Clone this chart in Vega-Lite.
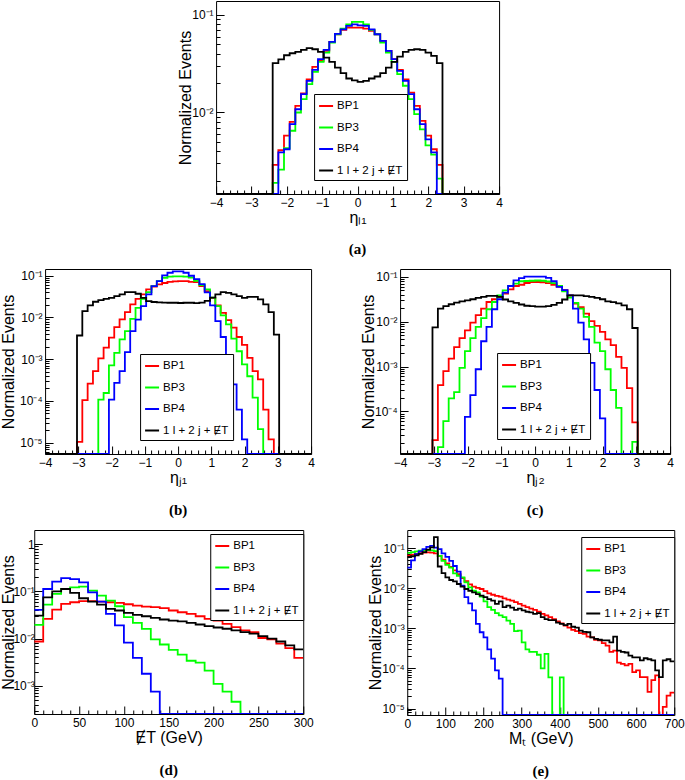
{
"$schema":"https://vega.github.io/schema/vega-lite/v6.json",
"padding":{"left":0,"top":0,"right":0,"bottom":0},
"datasets":{
"a":[
{"x":-4,"BP1":0.00146,"BP3":0.00146,"BP4":0.00146,"SM":0.00146},
{"x":-3.84,"BP1":0.00146,"BP3":0.00146,"BP4":0.00146,"SM":0.00146},
{"x":-3.68,"BP1":0.00146,"BP3":0.00146,"BP4":0.00146,"SM":0.00146},
{"x":-3.52,"BP1":0.00146,"BP3":0.00146,"BP4":0.00146,"SM":0.00146},
{"x":-3.36,"BP1":0.00146,"BP3":0.00146,"BP4":0.00146,"SM":0.00146},
{"x":-3.2,"BP1":0.00146,"BP3":0.00146,"BP4":0.00146,"SM":0.00146},
{"x":-3.04,"BP1":0.00146,"BP3":0.00146,"BP4":0.00146,"SM":0.00146},
{"x":-2.88,"BP1":0.00146,"BP3":0.00146,"BP4":0.00146,"SM":0.00146},
{"x":-2.72,"BP1":0.00146,"BP3":0.00146,"BP4":0.00146,"SM":0.00146},
{"x":-2.56,"BP1":0.00146,"BP3":0.00146,"BP4":0.00146,"SM":0.00146},
{"x":-2.4,"BP1":0.0029,"BP3":0.0019,"BP4":0.00146,"SM":0.032},
{"x":-2.24,"BP1":0.0041,"BP3":0.0026,"BP4":0.0039,"SM":0.035},
{"x":-2.08,"BP1":0.0058,"BP3":0.0043,"BP4":0.0042,"SM":0.0386},
{"x":-1.92,"BP1":0.008,"BP3":0.0065,"BP4":0.0076,"SM":0.0405},
{"x":-1.76,"BP1":0.0117,"BP3":0.01,"BP4":0.0108,"SM":0.0418},
{"x":-1.6,"BP1":0.0157,"BP3":0.0137,"BP4":0.0154,"SM":0.0439},
{"x":-1.44,"BP1":0.0219,"BP3":0.0195,"BP4":0.0211,"SM":0.0456},
{"x":-1.28,"BP1":0.0294,"BP3":0.0261,"BP4":0.0274,"SM":0.0445},
{"x":-1.12,"BP1":0.0338,"BP3":0.033,"BP4":0.0352,"SM":0.0418},
{"x":-0.96,"BP1":0.0428,"BP3":0.0411,"BP4":0.0439,"SM":0.0366},
{"x":-0.8,"BP1":0.053,"BP3":0.052,"BP4":0.053,"SM":0.033},
{"x":-0.64,"BP1":0.0634,"BP3":0.0634,"BP4":0.064,"SM":0.0289},
{"x":-0.48,"BP1":0.0702,"BP3":0.0724,"BP4":0.0713,"SM":0.0253},
{"x":-0.32,"BP1":0.0742,"BP3":0.0802,"BP4":0.0772,"SM":0.0223},
{"x":-0.16,"BP1":0.0742,"BP3":0.0848,"BP4":0.0802,"SM":0.0213},
{"x":0,"BP1":0.0742,"BP3":0.0848,"BP4":0.0783,"SM":0.0206},
{"x":0.16,"BP1":0.0724,"BP3":0.0802,"BP4":0.0772,"SM":0.0211},
{"x":0.32,"BP1":0.0686,"BP3":0.0702,"BP4":0.0713,"SM":0.0223},
{"x":0.48,"BP1":0.0634,"BP3":0.0634,"BP4":0.0634,"SM":0.0234},
{"x":0.64,"BP1":0.0542,"BP3":0.052,"BP4":0.0542,"SM":0.0253},
{"x":0.8,"BP1":0.0428,"BP3":0.041,"BP4":0.0428,"SM":0.0289},
{"x":0.96,"BP1":0.0352,"BP3":0.033,"BP4":0.0352,"SM":0.033},
{"x":1.12,"BP1":0.0274,"BP3":0.0247,"BP4":0.0267,"SM":0.0374},
{"x":1.28,"BP1":0.0219,"BP3":0.0188,"BP4":0.0211,"SM":0.0418},
{"x":1.44,"BP1":0.016,"BP3":0.0137,"BP4":0.0154,"SM":0.0439},
{"x":1.6,"BP1":0.0117,"BP3":0.0096,"BP4":0.0108,"SM":0.0445},
{"x":1.76,"BP1":0.0082,"BP3":0.0067,"BP4":0.0076,"SM":0.0439},
{"x":1.92,"BP1":0.0058,"BP3":0.0046,"BP4":0.0053,"SM":0.0411},
{"x":2.08,"BP1":0.0042,"BP3":0.0037,"BP4":0.0039,"SM":0.038},
{"x":2.24,"BP1":0.0029,"BP3":0.0021,"BP4":0.00146,"SM":0.032},
{"x":2.4,"BP1":0.00146,"BP3":0.00146,"BP4":0.00146,"SM":0.00146},
{"x":2.56,"BP1":0.00146,"BP3":0.00146,"BP4":0.00146,"SM":0.00146},
{"x":2.72,"BP1":0.00146,"BP3":0.00146,"BP4":0.00146,"SM":0.00146},
{"x":2.88,"BP1":0.00146,"BP3":0.00146,"BP4":0.00146,"SM":0.00146},
{"x":3.04,"BP1":0.00146,"BP3":0.00146,"BP4":0.00146,"SM":0.00146},
{"x":3.2,"BP1":0.00146,"BP3":0.00146,"BP4":0.00146,"SM":0.00146},
{"x":3.36,"BP1":0.00146,"BP3":0.00146,"BP4":0.00146,"SM":0.00146},
{"x":3.52,"BP1":0.00146,"BP3":0.00146,"BP4":0.00146,"SM":0.00146},
{"x":3.68,"BP1":0.00146,"BP3":0.00146,"BP4":0.00146,"SM":0.00146},
{"x":3.84,"BP1":0.00146,"BP3":0.00146,"BP4":0.00146,"SM":0.00146},
{"x":4,"BP1":0.00146,"BP3":0.00146,"BP4":0.00146,"SM":0.00146}
],
"b":[
{"x":-4,"BP1":0.00000535,"BP3":0.00000535,"BP4":0.00000535,"SM":0.00000535},
{"x":-3.84,"BP1":0.00000535,"BP3":0.00000535,"BP4":0.00000535,"SM":0.00000535},
{"x":-3.68,"BP1":0.00000535,"BP3":0.00000535,"BP4":0.00000535,"SM":0.00000535},
{"x":-3.52,"BP1":0.00000535,"BP3":0.00000535,"BP4":0.00000535,"SM":0.00000535},
{"x":-3.36,"BP1":0.00000535,"BP3":0.00000535,"BP4":0.00000535,"SM":0.00000535},
{"x":-3.2,"BP1":0.00000535,"BP3":0.00000535,"BP4":0.00000535,"SM":0.00000535},
{"x":-3.04,"BP1":0.0000105,"BP3":0.00000535,"BP4":0.00000535,"SM":0.0037},
{"x":-2.88,"BP1":0.000105,"BP3":0.00000535,"BP4":0.00000535,"SM":0.0142},
{"x":-2.72,"BP1":0.00026,"BP3":0.00000535,"BP4":0.00000535,"SM":0.0194},
{"x":-2.56,"BP1":0.00052,"BP3":0.00000535,"BP4":0.00000535,"SM":0.0238},
{"x":-2.4,"BP1":0.00105,"BP3":0.000108,"BP4":0.00000535,"SM":0.026},
{"x":-2.24,"BP1":0.0019,"BP3":0.000155,"BP4":0.00000535,"SM":0.028},
{"x":-2.08,"BP1":0.0033,"BP3":0.00071,"BP4":0.000108,"SM":0.0296},
{"x":-1.92,"BP1":0.0059,"BP3":0.00142,"BP4":0.00027,"SM":0.0325},
{"x":-1.76,"BP1":0.009,"BP3":0.00297,"BP4":0.00052,"SM":0.0356},
{"x":-1.6,"BP1":0.0134,"BP3":0.0047,"BP4":0.00147,"SM":0.0405},
{"x":-1.44,"BP1":0.0205,"BP3":0.0093,"BP4":0.0047,"SM":0.0405},
{"x":-1.28,"BP1":0.028,"BP3":0.017,"BP4":0.0089,"SM":0.037},
{"x":-1.12,"BP1":0.0356,"BP3":0.028,"BP4":0.0187,"SM":0.0296},
{"x":-0.96,"BP1":0.047,"BP3":0.0405,"BP4":0.0356,"SM":0.0247},
{"x":-0.8,"BP1":0.055,"BP3":0.0565,"BP4":0.0565,"SM":0.0235},
{"x":-0.64,"BP1":0.062,"BP3":0.0745,"BP4":0.0745,"SM":0.023},
{"x":-0.48,"BP1":0.067,"BP3":0.0895,"BP4":0.102,"SM":0.0228},
{"x":-0.32,"BP1":0.071,"BP3":0.095,"BP4":0.118,"SM":0.0225},
{"x":-0.16,"BP1":0.073,"BP3":0.097,"BP4":0.127,"SM":0.0225},
{"x":0,"BP1":0.0745,"BP3":0.097,"BP4":0.127,"SM":0.0222},
{"x":0.16,"BP1":0.0745,"BP3":0.095,"BP4":0.118,"SM":0.0225},
{"x":0.32,"BP1":0.071,"BP3":0.09,"BP4":0.1,"SM":0.0225},
{"x":0.48,"BP1":0.0705,"BP3":0.075,"BP4":0.083,"SM":0.022},
{"x":0.64,"BP1":0.0565,"BP3":0.06,"BP4":0.063,"SM":0.0228},
{"x":0.8,"BP1":0.043,"BP3":0.047,"BP4":0.04,"SM":0.025},
{"x":0.96,"BP1":0.0296,"BP3":0.03,"BP4":0.0195,"SM":0.03},
{"x":1.12,"BP1":0.0194,"BP3":0.0187,"BP4":0.0082,"SM":0.0356},
{"x":1.28,"BP1":0.0129,"BP3":0.0112,"BP4":0.0034,"SM":0.0405},
{"x":1.44,"BP1":0.0086,"BP3":0.0068,"BP4":0.00098,"SM":0.039},
{"x":1.6,"BP1":0.0057,"BP3":0.0031,"BP4":0.00025,"SM":0.0356},
{"x":1.76,"BP1":0.0034,"BP3":0.00155,"BP4":0.000062,"SM":0.0325},
{"x":1.92,"BP1":0.0022,"BP3":0.00075,"BP4":0.000012,"SM":0.0296},
{"x":2.08,"BP1":0.00108,"BP3":0.00039,"BP4":0.00000535,"SM":0.031},
{"x":2.24,"BP1":0.00052,"BP3":0.00012,"BP4":0.00000535,"SM":0.031},
{"x":2.4,"BP1":0.00033,"BP3":0.000021,"BP4":0.00000535,"SM":0.027},
{"x":2.56,"BP1":0.000062,"BP3":0.00000535,"BP4":0.00000535,"SM":0.0205},
{"x":2.72,"BP1":0.000012,"BP3":0.00000535,"BP4":0.00000535,"SM":0.0134},
{"x":2.88,"BP1":0.00000535,"BP3":0.00000535,"BP4":0.00000535,"SM":0.0039},
{"x":3.04,"BP1":0.00000535,"BP3":0.00000535,"BP4":0.00000535,"SM":0.00000535},
{"x":3.2,"BP1":0.00000535,"BP3":0.00000535,"BP4":0.00000535,"SM":0.00000535},
{"x":3.36,"BP1":0.00000535,"BP3":0.00000535,"BP4":0.00000535,"SM":0.00000535},
{"x":3.52,"BP1":0.00000535,"BP3":0.00000535,"BP4":0.00000535,"SM":0.00000535},
{"x":3.68,"BP1":0.00000535,"BP3":0.00000535,"BP4":0.00000535,"SM":0.00000535},
{"x":3.84,"BP1":0.00000535,"BP3":0.00000535,"BP4":0.00000535,"SM":0.00000535},
{"x":4,"BP1":0.00000535,"BP3":0.00000535,"BP4":0.00000535,"SM":0.00000535}
],
"c":[
{"x":-4,"BP1":0.0000113,"BP3":0.0000113,"BP4":0.0000113,"SM":0.0000113},
{"x":-3.84,"BP1":0.0000113,"BP3":0.0000113,"BP4":0.0000113,"SM":0.0000113},
{"x":-3.68,"BP1":0.0000113,"BP3":0.0000113,"BP4":0.0000113,"SM":0.0000113},
{"x":-3.52,"BP1":0.0000113,"BP3":0.0000113,"BP4":0.0000113,"SM":0.0000113},
{"x":-3.36,"BP1":0.0000113,"BP3":0.0000113,"BP4":0.0000113,"SM":0.0000113},
{"x":-3.2,"BP1":0.0000113,"BP3":0.0000113,"BP4":0.0000113,"SM":0.0000113},
{"x":-3.04,"BP1":0.000023,"BP3":0.0000113,"BP4":0.0000113,"SM":0.0074},
{"x":-2.88,"BP1":0.000385,"BP3":0.000016,"BP4":0.0000113,"SM":0.0195},
{"x":-2.72,"BP1":0.00079,"BP3":0.000061,"BP4":0.0000113,"SM":0.022},
{"x":-2.56,"BP1":0.0015,"BP3":0.000195,"BP4":0.0000113,"SM":0.0243},
{"x":-2.4,"BP1":0.0027,"BP3":0.00027,"BP4":0.0000113,"SM":0.0265},
{"x":-2.24,"BP1":0.0043,"BP3":0.00093,"BP4":0.0000113,"SM":0.0283},
{"x":-2.08,"BP1":0.0064,"BP3":0.0022,"BP4":0.000076,"SM":0.0298},
{"x":-1.92,"BP1":0.0095,"BP3":0.0043,"BP4":0.00023,"SM":0.0314},
{"x":-1.76,"BP1":0.0139,"BP3":0.0076,"BP4":0.00087,"SM":0.0336},
{"x":-1.6,"BP1":0.0195,"BP3":0.012,"BP4":0.00365,"SM":0.0353},
{"x":-1.44,"BP1":0.0273,"BP3":0.0188,"BP4":0.0076,"SM":0.0372},
{"x":-1.28,"BP1":0.0314,"BP3":0.0273,"BP4":0.0188,"SM":0.0372},
{"x":-1.12,"BP1":0.0353,"BP3":0.0385,"BP4":0.0314,"SM":0.0353},
{"x":-0.96,"BP1":0.042,"BP3":0.0497,"BP4":0.044,"SM":0.031},
{"x":-0.8,"BP1":0.052,"BP3":0.062,"BP4":0.062,"SM":0.0283},
{"x":-0.64,"BP1":0.062,"BP3":0.07,"BP4":0.083,"SM":0.026},
{"x":-0.48,"BP1":0.066,"BP3":0.079,"BP4":0.093,"SM":0.024},
{"x":-0.32,"BP1":0.0723,"BP3":0.08,"BP4":0.1,"SM":0.0225},
{"x":-0.16,"BP1":0.076,"BP3":0.081,"BP4":0.1,"SM":0.022},
{"x":0,"BP1":0.076,"BP3":0.082,"BP4":0.1,"SM":0.0215},
{"x":0.16,"BP1":0.075,"BP3":0.081,"BP4":0.1,"SM":0.0215},
{"x":0.32,"BP1":0.072,"BP3":0.078,"BP4":0.094,"SM":0.022},
{"x":0.48,"BP1":0.066,"BP3":0.072,"BP4":0.079,"SM":0.0235},
{"x":0.64,"BP1":0.06,"BP3":0.062,"BP4":0.059,"SM":0.026},
{"x":0.8,"BP1":0.05,"BP3":0.047,"BP4":0.05,"SM":0.031},
{"x":0.96,"BP1":0.0385,"BP3":0.034,"BP4":0.0385,"SM":0.0385},
{"x":1.12,"BP1":0.025,"BP3":0.026,"BP4":0.0195,"SM":0.0385},
{"x":1.28,"BP1":0.021,"BP3":0.0195,"BP4":0.0095,"SM":0.0385},
{"x":1.44,"BP1":0.015,"BP3":0.0127,"BP4":0.004,"SM":0.037},
{"x":1.6,"BP1":0.0102,"BP3":0.0076,"BP4":0.0012,"SM":0.0353},
{"x":1.76,"BP1":0.008,"BP3":0.0034,"BP4":0.0003,"SM":0.0336},
{"x":1.92,"BP1":0.0059,"BP3":0.0022,"BP4":0.00007,"SM":0.0314},
{"x":2.08,"BP1":0.004,"BP3":0.00087,"BP4":0.0000113,"SM":0.0283},
{"x":2.24,"BP1":0.003,"BP3":0.0003,"BP4":0.0000113,"SM":0.027},
{"x":2.4,"BP1":0.00164,"BP3":0.00012,"BP4":0.0000113,"SM":0.0255},
{"x":2.56,"BP1":0.00093,"BP3":0.0000113,"BP4":0.0000113,"SM":0.023},
{"x":2.72,"BP1":0.00033,"BP3":0.0000113,"BP4":0.0000113,"SM":0.0188},
{"x":2.88,"BP1":0.000057,"BP3":0.000021,"BP4":0.0000113,"SM":0.0072},
{"x":3.04,"BP1":0.0000113,"BP3":0.0000113,"BP4":0.0000113,"SM":0.0000113},
{"x":3.2,"BP1":0.0000113,"BP3":0.0000113,"BP4":0.0000113,"SM":0.0000113},
{"x":3.36,"BP1":0.0000113,"BP3":0.0000113,"BP4":0.0000113,"SM":0.0000113},
{"x":3.52,"BP1":0.0000113,"BP3":0.0000113,"BP4":0.0000113,"SM":0.0000113},
{"x":3.68,"BP1":0.0000113,"BP3":0.0000113,"BP4":0.0000113,"SM":0.0000113},
{"x":3.84,"BP1":0.0000113,"BP3":0.0000113,"BP4":0.0000113,"SM":0.0000113},
{"x":4,"BP1":0.0000113,"BP3":0.0000113,"BP4":0.0000113,"SM":0.0000113}
],
"d":[
{"x":0,"BP1":0.0087,"BP3":0.0196,"BP4":0.0406,"SM":0.0308},
{"x":10,"BP1":0.0262,"BP3":0.0526,"BP4":0.1125,"SM":0.075},
{"x":20,"BP1":0.0413,"BP3":0.0883,"BP4":0.1606,"SM":0.1005},
{"x":30,"BP1":0.0543,"BP3":0.1125,"BP4":0.192,"SM":0.1125},
{"x":40,"BP1":0.0589,"BP3":0.122,"BP4":0.183,"SM":0.0927},
{"x":50,"BP1":0.0621,"BP3":0.126,"BP4":0.1555,"SM":0.0716},
{"x":60,"BP1":0.0621,"BP3":0.104,"BP4":0.0957,"SM":0.0608},
{"x":70,"BP1":0.0607,"BP3":0.0814,"BP4":0.0608,"SM":0.0526},
{"x":80,"BP1":0.0589,"BP3":0.0639,"BP4":0.0334,"SM":0.0426},
{"x":90,"BP1":0.0572,"BP3":0.0485,"BP4":0.019,"SM":0.0394},
{"x":100,"BP1":0.0535,"BP3":0.0284,"BP4":0.0082,"SM":0.0351},
{"x":110,"BP1":0.05,"BP3":0.0216,"BP4":0.0039,"SM":0.0318},
{"x":120,"BP1":0.0476,"BP3":0.0161,"BP4":0.0018,"SM":0.0298},
{"x":130,"BP1":0.0463,"BP3":0.0096,"BP4":0.00075,"SM":0.0276},
{"x":140,"BP1":0.0441,"BP3":0.0075,"BP4":0.000253,"SM":0.0254},
{"x":150,"BP1":0.0394,"BP3":0.0058,"BP4":0.000253,"SM":0.0241},
{"x":160,"BP1":0.0362,"BP3":0.0046,"BP4":0.000253,"SM":0.0231},
{"x":170,"BP1":0.0334,"BP3":0.0034,"BP4":0.000253,"SM":0.0216},
{"x":180,"BP1":0.0298,"BP3":0.0031,"BP4":0.000253,"SM":0.0199},
{"x":190,"BP1":0.0263,"BP3":0.0021,"BP4":0.000253,"SM":0.0184},
{"x":200,"BP1":0.0241,"BP3":0.0011,"BP4":0.000253,"SM":0.0172},
{"x":210,"BP1":0.0206,"BP3":0.00075,"BP4":0.000253,"SM":0.0162},
{"x":220,"BP1":0.0175,"BP3":0.00046,"BP4":0.000253,"SM":0.0149},
{"x":230,"BP1":0.0149,"BP3":0.000253,"BP4":0.000253,"SM":0.0137},
{"x":240,"BP1":0.0137,"BP3":0.000253,"BP4":0.000253,"SM":0.0127},
{"x":250,"BP1":0.0103,"BP3":0.000253,"BP4":0.000253,"SM":0.0113},
{"x":260,"BP1":0.0097,"BP3":0.000253,"BP4":0.000253,"SM":0.01},
{"x":270,"BP1":0.0078,"BP3":0.000253,"BP4":0.000253,"SM":0.0087},
{"x":280,"BP1":0.0063,"BP3":0.000253,"BP4":0.000253,"SM":0.0072},
{"x":290,"BP1":0.0039,"BP3":0.000253,"BP4":0.000253,"SM":0.0059},
{"x":300,"BP1":0.0039,"BP3":0.000253,"BP4":0.000253,"SM":0.0059}
],
"e":[
{"x":0,"BP1":0.065,"BP3":0.077,"BP4":0.033,"SM":0.061},
{"x":10,"BP1":0.069,"BP3":0.08,"BP4":0.05,"SM":0.063},
{"x":20,"BP1":0.072,"BP3":0.083,"BP4":0.071,"SM":0.066},
{"x":30,"BP1":0.075,"BP3":0.087,"BP4":0.083,"SM":0.072},
{"x":40,"BP1":0.078,"BP3":0.09,"BP4":0.095,"SM":0.08},
{"x":50,"BP1":0.079,"BP3":0.09,"BP4":0.108,"SM":0.092},
{"x":60,"BP1":0.078,"BP3":0.088,"BP4":0.114,"SM":0.105},
{"x":70,"BP1":0.074,"BP3":0.085,"BP4":0.104,"SM":0.19},
{"x":80,"BP1":0.064,"BP3":0.0645,"BP4":0.095,"SM":0.035},
{"x":90,"BP1":0.052,"BP3":0.0485,"BP4":0.074,"SM":0.024},
{"x":100,"BP1":0.042,"BP3":0.0386,"BP4":0.061,"SM":0.0187},
{"x":110,"BP1":0.034,"BP3":0.033,"BP4":0.0485,"SM":0.0161},
{"x":120,"BP1":0.028,"BP3":0.0235,"BP4":0.036,"SM":0.0149},
{"x":130,"BP1":0.0226,"BP3":0.0206,"BP4":0.026,"SM":0.0128},
{"x":140,"BP1":0.018,"BP3":0.0187,"BP4":0.0116,"SM":0.011},
{"x":150,"BP1":0.015,"BP3":0.014,"BP4":0.006,"SM":0.0096},
{"x":160,"BP1":0.0125,"BP3":0.0106,"BP4":0.0042,"SM":0.0087},
{"x":170,"BP1":0.011,"BP3":0.0087,"BP4":0.0028,"SM":0.0079},
{"x":180,"BP1":0.0102,"BP3":0.0079,"BP4":0.0013,"SM":0.0072},
{"x":190,"BP1":0.0096,"BP3":0.0062,"BP4":0.0008,"SM":0.0066},
{"x":200,"BP1":0.0085,"BP3":0.0047,"BP4":0.0006,"SM":0.006},
{"x":210,"BP1":0.0075,"BP3":0.0034,"BP4":0.0003,"SM":0.0054},
{"x":220,"BP1":0.0069,"BP3":0.0029,"BP4":0.000175,"SM":0.0049},
{"x":230,"BP1":0.0065,"BP3":0.0024,"BP4":0.00009,"SM":0.0041},
{"x":240,"BP1":0.0062,"BP3":0.0021,"BP4":0.000056,"SM":0.0047},
{"x":250,"BP1":0.0056,"BP3":0.0019,"BP4":0.0000069,"SM":0.0034},
{"x":260,"BP1":0.0052,"BP3":0.00157,"BP4":0.0000069,"SM":0.0037},
{"x":270,"BP1":0.0049,"BP3":0.0013,"BP4":0.0000069,"SM":0.0033},
{"x":280,"BP1":0.0045,"BP3":0.00085,"BP4":0.0000069,"SM":0.0029},
{"x":290,"BP1":0.0041,"BP3":0.00088,"BP4":0.0000069,"SM":0.0031},
{"x":300,"BP1":0.0037,"BP3":0.00045,"BP4":0.0000069,"SM":0.0028},
{"x":310,"BP1":0.0034,"BP3":0.0003,"BP4":0.0000069,"SM":0.0026},
{"x":320,"BP1":0.0031,"BP3":0.00026,"BP4":0.0000069,"SM":0.0025},
{"x":330,"BP1":0.0029,"BP3":0.00026,"BP4":0.0000069,"SM":0.0023},
{"x":340,"BP1":0.0026,"BP3":0.00022,"BP4":0.0000069,"SM":0.0024},
{"x":350,"BP1":0.0023,"BP3":0.0001,"BP4":0.0000069,"SM":0.0019},
{"x":360,"BP1":0.0021,"BP3":0.00023,"BP4":0.0000069,"SM":0.0017},
{"x":370,"BP1":0.0019,"BP3":0.00006,"BP4":0.0000069,"SM":0.0016},
{"x":380,"BP1":0.0017,"BP3":0.0000069,"BP4":0.0000069,"SM":0.0016},
{"x":390,"BP1":0.0015,"BP3":0.0000069,"BP4":0.0000069,"SM":0.0014},
{"x":400,"BP1":0.00134,"BP3":0.00006,"BP4":0.0000069,"SM":0.0013},
{"x":410,"BP1":0.00117,"BP3":0.0000069,"BP4":0.0000069,"SM":0.0012},
{"x":420,"BP1":0.00105,"BP3":0.0000069,"BP4":0.0000069,"SM":0.0013},
{"x":430,"BP1":0.00092,"BP3":0.0000069,"BP4":0.0000069,"SM":0.0011},
{"x":440,"BP1":0.00085,"BP3":0.0000069,"BP4":0.0000069,"SM":0.00105},
{"x":450,"BP1":0.00076,"BP3":0.0000069,"BP4":0.0000069,"SM":0.00088},
{"x":460,"BP1":0.00073,"BP3":0.0000069,"BP4":0.0000069,"SM":0.00082},
{"x":470,"BP1":0.00062,"BP3":0.0000069,"BP4":0.0000069,"SM":0.0008},
{"x":480,"BP1":0.0006,"BP3":0.0000069,"BP4":0.0000069,"SM":0.0006},
{"x":490,"BP1":0.00052,"BP3":0.0000069,"BP4":0.0000069,"SM":0.00055},
{"x":500,"BP1":0.0005,"BP3":0.0000069,"BP4":0.0000069,"SM":0.00052},
{"x":510,"BP1":0.00043,"BP3":0.0000069,"BP4":0.0000069,"SM":0.0005},
{"x":520,"BP1":0.00037,"BP3":0.0000069,"BP4":0.0000069,"SM":0.0005},
{"x":530,"BP1":0.00026,"BP3":0.0000069,"BP4":0.0000069,"SM":0.00045},
{"x":540,"BP1":0.00028,"BP3":0.0000069,"BP4":0.0000069,"SM":0.00062},
{"x":550,"BP1":0.00014,"BP3":0.0000069,"BP4":0.0000069,"SM":0.00028},
{"x":560,"BP1":0.00013,"BP3":0.0000069,"BP4":0.0000069,"SM":0.00026},
{"x":570,"BP1":0.00012,"BP3":0.0000069,"BP4":0.0000069,"SM":0.00025},
{"x":580,"BP1":0.00013,"BP3":0.0000069,"BP4":0.0000069,"SM":0.00021},
{"x":590,"BP1":0.000081,"BP3":0.0000069,"BP4":0.0000069,"SM":0.00019},
{"x":600,"BP1":0.00009,"BP3":0.0000069,"BP4":0.0000069,"SM":0.00019},
{"x":610,"BP1":0.000061,"BP3":0.0000069,"BP4":0.0000069,"SM":0.00016},
{"x":620,"BP1":0.000061,"BP3":0.0000069,"BP4":0.0000069,"SM":0.00018},
{"x":630,"BP1":0.000026,"BP3":0.0000069,"BP4":0.0000069,"SM":0.00017},
{"x":640,"BP1":0.000051,"BP3":0.0000069,"BP4":0.0000069,"SM":0.00016},
{"x":650,"BP1":0.000067,"BP3":0.0000069,"BP4":0.0000069,"SM":0.00009},
{"x":660,"BP1":0.0000069,"BP3":0.0000069,"BP4":0.0000069,"SM":0.000061},
{"x":670,"BP1":0.000011,"BP3":0.0000069,"BP4":0.0000069,"SM":0.00016},
{"x":680,"BP1":0.000021,"BP3":0.0000069,"BP4":0.0000069,"SM":0.00017},
{"x":690,"BP1":0.000025,"BP3":0.0000069,"BP4":0.0000069,"SM":0.00015},
{"x":700,"BP1":0.000025,"BP3":0.0000069,"BP4":0.0000069,"SM":0.00015}
]
},
"vconcat":[
{
"width":283,"height":193,"title":{"text":"(a)","offset":17},
"data":{"name":"a"},
"transform":[{"fold":["BP1","BP3","BP4","SM"],"as":["s","v"]}],
"mark":{"type":"line","interpolate":"step-after","strokeWidth":1.8,"clip":true},
"encoding":{
"x":{"field":"x","type":"quantitative","scale":{"domain":[-4,4],"nice":false,"zero":false},
"axis":{"title":"ηₗ₁","values":[-4,-3.8,-3.6,-3.4,-3.2,-3,-2.8,-2.6,-2.4,-2.2,-2,-1.8,-1.6,-1.4,-1.2,-1,-0.8,-0.6,-0.4,-0.2,0,0.2,0.4,0.6,0.8,1,1.2,1.4,1.6,1.8,2,2.2,2.4,2.6,2.8,3,3.2,3.4,3.6,3.8,4],
"labelExpr":"abs(datum.value-round(datum.value))<0.01 ? format(datum.value,'d') : ''",
"tickSize":{"condition":{"test":"abs(datum.value-round(datum.value))<0.01","value":-8},"value":-4}}},
"y":{"field":"v","type":"quantitative","scale":{"type":"log","domain":[0.00146,0.139],"nice":false},
"axis":{"title":"Normalized Events","values":[0.002,0.003,0.004,0.005,0.006,0.007,0.008,0.009,0.01,0.02,0.03,0.04,0.05,0.06,0.07,0.08,0.09,0.1],
"labelExpr":"abs(log(datum.value)/LN10-round(log(datum.value)/LN10))<0.001 ? (round(log(datum.value)/LN10)==0 ? '1' : '10'+['⁻⁵','⁻⁴','⁻³','⁻²','⁻¹'][round(log(datum.value)/LN10)+5]) : ''",
"tickSize":{"condition":{"test":"abs(log(datum.value)/LN10-round(log(datum.value)/LN10))<0.001","value":-8},"value":-4}}},
"color":{"field":"s","type":"nominal","scale":{"domain":["BP1","BP3","BP4","SM"],"range":["#ff0000","#00ff00","#0000ff","#000000"]},
"legend":{"orient":"none","legendX":98,"legendY":93,"labelExpr":"datum.label == 'SM' ? '1 l + 2 j + ɆT' : datum.label"}}
}
},
{
"hconcat":[
{
"width":266,"height":185,"title":{"text":"(b)","offset":18},
"data":{"name":"b"},
"transform":[{"fold":["BP1","BP3","BP4","SM"],"as":["s","v"]}],
"mark":{"type":"line","interpolate":"step-after","strokeWidth":1.8,"clip":true},
"encoding":{
"x":{"field":"x","type":"quantitative","scale":{"domain":[-4,4],"nice":false,"zero":false},
"axis":{"title":"ηⱼ₁","values":[-4,-3.8,-3.6,-3.4,-3.2,-3,-2.8,-2.6,-2.4,-2.2,-2,-1.8,-1.6,-1.4,-1.2,-1,-0.8,-0.6,-0.4,-0.2,0,0.2,0.4,0.6,0.8,1,1.2,1.4,1.6,1.8,2,2.2,2.4,2.6,2.8,3,3.2,3.4,3.6,3.8,4],
"labelExpr":"abs(datum.value-round(datum.value))<0.01 ? format(datum.value,'d') : ''",
"tickSize":{"condition":{"test":"abs(datum.value-round(datum.value))<0.01","value":-8},"value":-4}}},
"y":{"field":"v","type":"quantitative","scale":{"type":"log","domain":[0.00000535,0.145],"nice":false},
"axis":{"title":"Normalized Events","titlePadding":3,"values":[0.000006,0.000007,0.000008,0.000009,0.00001,0.00002,0.00003,0.00004,0.00005,0.00006,0.00007,0.00008,0.00009,0.0001,0.0002,0.0003,0.0004,0.0005,0.0006,0.0007,0.0008,0.0009,0.001,0.002,0.003,0.004,0.005,0.006,0.007,0.008,0.009,0.01,0.02,0.03,0.04,0.05,0.06,0.07,0.08,0.09,0.1],
"labelExpr":"abs(log(datum.value)/LN10-round(log(datum.value)/LN10))<0.001 ? (round(log(datum.value)/LN10)==0 ? '1' : '10'+['⁻⁵','⁻⁴','⁻³','⁻²','⁻¹'][round(log(datum.value)/LN10)+5]) : ''",
"tickSize":{"condition":{"test":"abs(log(datum.value)/LN10-round(log(datum.value)/LN10))<0.001","value":-8},"value":-4}}},
"color":{"field":"s","type":"nominal","scale":{"domain":["BP1","BP3","BP4","SM"],"range":["#ff0000","#00ff00","#0000ff","#000000"]},
"legend":{"orient":"none","legendX":95,"legendY":85,"labelExpr":"datum.label == 'SM' ? '1 l + 2 j + ɆT' : datum.label"}}
}
},
{
"width":270,"height":185,"title":{"text":"(c)","offset":18},
"data":{"name":"c"},
"transform":[{"fold":["BP1","BP3","BP4","SM"],"as":["s","v"]}],
"mark":{"type":"line","interpolate":"step-after","strokeWidth":1.8,"clip":true},
"encoding":{
"x":{"field":"x","type":"quantitative","scale":{"domain":[-4,4],"nice":false,"zero":false},
"axis":{"title":"ηⱼ₂","values":[-4,-3.8,-3.6,-3.4,-3.2,-3,-2.8,-2.6,-2.4,-2.2,-2,-1.8,-1.6,-1.4,-1.2,-1,-0.8,-0.6,-0.4,-0.2,0,0.2,0.4,0.6,0.8,1,1.2,1.4,1.6,1.8,2,2.2,2.4,2.6,2.8,3,3.2,3.4,3.6,3.8,4],
"labelExpr":"abs(datum.value-round(datum.value))<0.01 ? format(datum.value,'d') : ''",
"tickSize":{"condition":{"test":"abs(datum.value-round(datum.value))<0.01","value":-8},"value":-4}}},
"y":{"field":"v","type":"quantitative","scale":{"type":"log","domain":[0.0000113,0.148],"nice":false},
"axis":{"title":"Normalized Events","values":[0.00002,0.00003,0.00004,0.00005,0.00006,0.00007,0.00008,0.00009,0.0001,0.0002,0.0003,0.0004,0.0005,0.0006,0.0007,0.0008,0.0009,0.001,0.002,0.003,0.004,0.005,0.006,0.007,0.008,0.009,0.01,0.02,0.03,0.04,0.05,0.06,0.07,0.08,0.09,0.1],
"labelExpr":"abs(log(datum.value)/LN10-round(log(datum.value)/LN10))<0.001 ? (round(log(datum.value)/LN10)==0 ? '1' : '10'+['⁻⁵','⁻⁴','⁻³','⁻²','⁻¹'][round(log(datum.value)/LN10)+5]) : ''",
"tickSize":{"condition":{"test":"abs(log(datum.value)/LN10-round(log(datum.value)/LN10))<0.001","value":-8},"value":-4}}},
"color":{"field":"s","type":"nominal","scale":{"domain":["BP1","BP3","BP4","SM"],"range":["#ff0000","#00ff00","#0000ff","#000000"]},
"legend":{"orient":"none","legendX":97,"legendY":84,"labelExpr":"datum.label == 'SM' ? '1 l + 2 j + ɆT' : datum.label"}}
}
}
],
"spacing":44,
"resolve":{"scale":{"color":"independent","x":"independent","y":"independent"},"legend":{"color":"independent"}}
},
{
"hconcat":[
{
"width":269,"height":184,"title":{"text":"(d)","offset":18},
"data":{"name":"d"},
"transform":[{"fold":["BP1","BP3","BP4","SM"],"as":["s","v"]}],
"mark":{"type":"line","interpolate":"step-after","strokeWidth":1.8,"clip":true},
"encoding":{
"x":{"field":"x","type":"quantitative","scale":{"domain":[0,300],"nice":false,"zero":false},
"axis":{"title":"ɆT (GeV)","values":[0,10,20,30,40,50,60,70,80,90,100,110,120,130,140,150,160,170,180,190,200,210,220,230,240,250,260,270,280,290,300],
"labelExpr":"datum.value % 50 == 0 ? format(datum.value,'d') : ''",
"tickSize":{"condition":{"test":"datum.value % 50 == 0","value":-8},"value":-4}}},
"y":{"field":"v","type":"quantitative","scale":{"type":"log","domain":[0.000253,2.0],"nice":false},
"axis":{"title":"Normalized Events","labelPadding":8,"titlePadding":-4,"values":[0.0003,0.0004,0.0005,0.0006,0.0007,0.0008,0.0009,0.001,0.002,0.003,0.004,0.005,0.006,0.007,0.008,0.009,0.01,0.02,0.03,0.04,0.05,0.06,0.07,0.08,0.09,0.1,0.2,0.3,0.4,0.5,0.6,0.7,0.8,0.9,1],
"labelExpr":"abs(log(datum.value)/LN10-round(log(datum.value)/LN10))<0.001 ? (round(log(datum.value)/LN10)==0 ? '1' : '10'+['⁻⁵','⁻⁴','⁻³','⁻²','⁻¹'][round(log(datum.value)/LN10)+5]) : ''",
"tickSize":{"condition":{"test":"abs(log(datum.value)/LN10-round(log(datum.value)/LN10))<0.001","value":-8},"value":-4}}},
"color":{"field":"s","type":"nominal","scale":{"domain":["BP1","BP3","BP4","SM"],"range":["#ff0000","#00ff00","#0000ff","#000000"]},
"legend":{"orient":"none","legendX":176,"legendY":4,"labelExpr":"datum.label == 'SM' ? '1 l + 2 j + ɆT' : datum.label"}}
}
},
{
"width":267,"height":185,"title":{"text":"(e)","offset":18},
"data":{"name":"e"},
"transform":[{"fold":["BP1","BP3","BP4","SM"],"as":["s","v"]}],
"mark":{"type":"line","interpolate":"step-after","strokeWidth":1.8,"clip":true},
"encoding":{
"x":{"field":"x","type":"quantitative","scale":{"domain":[0,700],"nice":false,"zero":false},
"axis":{"title":"Mₜ (GeV)","values":[0,20,40,60,80,100,120,140,160,180,200,220,240,260,280,300,320,340,360,380,400,420,440,460,480,500,520,540,560,580,600,620,640,660,680,700],
"labelExpr":"datum.value % 100 == 0 ? format(datum.value,'d') : ''",
"tickSize":{"condition":{"test":"datum.value % 100 == 0","value":-8},"value":-4}}},
"y":{"field":"v","type":"quantitative","scale":{"type":"log","domain":[0.0000069,0.285],"nice":false},
"axis":{"title":"Normalized Events","values":[0.000007,0.000008,0.000009,0.00001,0.00002,0.00003,0.00004,0.00005,0.00006,0.00007,0.00008,0.00009,0.0001,0.0002,0.0003,0.0004,0.0005,0.0006,0.0007,0.0008,0.0009,0.001,0.002,0.003,0.004,0.005,0.006,0.007,0.008,0.009,0.01,0.02,0.03,0.04,0.05,0.06,0.07,0.08,0.09,0.1,0.2],
"labelExpr":"abs(log(datum.value)/LN10-round(log(datum.value)/LN10))<0.001 ? (round(log(datum.value)/LN10)==0 ? '1' : '10'+['⁻⁵','⁻⁴','⁻³','⁻²','⁻¹'][round(log(datum.value)/LN10)+5]) : ''",
"tickSize":{"condition":{"test":"abs(log(datum.value)/LN10-round(log(datum.value)/LN10))<0.001","value":-8},"value":-4}}},
"color":{"field":"s","type":"nominal","scale":{"domain":["BP1","BP3","BP4","SM"],"range":["#ff0000","#00ff00","#0000ff","#000000"]},
"legend":{"orient":"none","legendX":174,"legendY":7,"labelExpr":"datum.label == 'SM' ? '1 l + 2 j + ɆT' : datum.label"}}
}
}
],
"spacing":52,
"resolve":{"scale":{"color":"independent","x":"independent","y":"independent"},"legend":{"color":"independent"}}
}
],
"spacing":10,
"center":true,
"resolve":{"scale":{"color":"independent","x":"independent","y":"independent"},"legend":{"color":"independent"}},
"config":{
"view":{"stroke":"black","strokeWidth":1},
"axis":{"domain":false,"grid":false,"tickColor":"black","tickWidth":1,"labelColor":"black","titleColor":"black","labelFont":"Liberation Sans","titleFont":"Liberation Sans","labelFontSize":12,"titleFontSize":16,"titleFontWeight":"normal","labelOverlap":false,"labelFlush":false,"labelBound":false,"labelPadding":11},
"axisX":{"titlePadding":-3},
"axisY":{"titlePadding":-2},
"legend":{"title":null,"direction":"vertical","fillColor":"white","strokeColor":"black","padding":4,"rowPadding":7.5,"symbolType":"stroke","symbolStrokeWidth":2,"symbolSize":196,"labelFont":"Liberation Sans","labelFontSize":11.5,"labelOffset":3,"labelColor":"black"},
"title":{"font":"Liberation Serif","fontSize":15,"fontWeight":"bold","orient":"bottom","anchor":"middle","frame":"group","color":"black"}
}
}
